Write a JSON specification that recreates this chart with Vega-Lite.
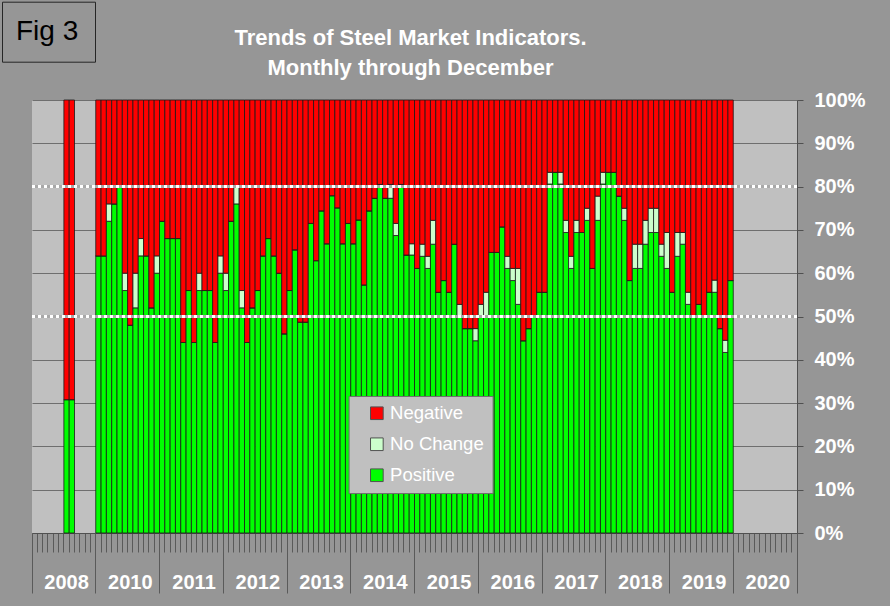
{
  "$schema": "https://vega.github.io/schema/vega-lite/v6.json",
  "width": 765,
  "height": 433,
  "autosize": {"type": "none"},
  "padding": {"left": 32, "top": 100, "right": 93, "bottom": 73},
  "background": "#969696",
  "config": {
    "font": "Liberation Sans",
    "view": {"fill": "#C0C0C0", "stroke": null}
  },
  "title": {
    "text": ["Trends of Steel Market Indicators.", "Monthly through December"],
    "color": "white",
    "font": "Liberation Sans",
    "fontSize": 22,
    "fontWeight": "bold",
    "anchor": "middle",
    "frame": "group",
    "offset": -79,
    "lineHeight": 30,
    "dx": -4
  },
  "resolve": {"axis": {"x": "independent"}},
  "layer": [
    {
      "data": {
        "values": [
          {"m": "2008-07", "pos": 30.8, "nochg": 0, "neg": 69.2},
          {"m": "2008-08", "pos": 30.8, "nochg": 0, "neg": 69.2},
          {"m": "2010-01", "pos": 64, "nochg": 0, "neg": 36},
          {"m": "2010-02", "pos": 64, "nochg": 0, "neg": 36},
          {"m": "2010-03", "pos": 72, "nochg": 4, "neg": 24},
          {"m": "2010-04", "pos": 76, "nochg": 0, "neg": 24},
          {"m": "2010-05", "pos": 80, "nochg": 0, "neg": 20},
          {"m": "2010-06", "pos": 56, "nochg": 4, "neg": 40},
          {"m": "2010-07", "pos": 48, "nochg": 0, "neg": 52},
          {"m": "2010-08", "pos": 52, "nochg": 8, "neg": 40},
          {"m": "2010-09", "pos": 64, "nochg": 4, "neg": 32},
          {"m": "2010-10", "pos": 64, "nochg": 0, "neg": 36},
          {"m": "2010-11", "pos": 52, "nochg": 0, "neg": 48},
          {"m": "2010-12", "pos": 60, "nochg": 4, "neg": 36},
          {"m": "2011-01", "pos": 72, "nochg": 0, "neg": 28},
          {"m": "2011-02", "pos": 68, "nochg": 0, "neg": 32},
          {"m": "2011-03", "pos": 68, "nochg": 0, "neg": 32},
          {"m": "2011-04", "pos": 68, "nochg": 0, "neg": 32},
          {"m": "2011-05", "pos": 44, "nochg": 0, "neg": 56},
          {"m": "2011-06", "pos": 56, "nochg": 0, "neg": 44},
          {"m": "2011-07", "pos": 44, "nochg": 0, "neg": 56},
          {"m": "2011-08", "pos": 56, "nochg": 4, "neg": 40},
          {"m": "2011-09", "pos": 56, "nochg": 0, "neg": 44},
          {"m": "2011-10", "pos": 56, "nochg": 0, "neg": 44},
          {"m": "2011-11", "pos": 44, "nochg": 0, "neg": 56},
          {"m": "2011-12", "pos": 60, "nochg": 4, "neg": 36},
          {"m": "2012-01", "pos": 56, "nochg": 4, "neg": 40},
          {"m": "2012-02", "pos": 72, "nochg": 0, "neg": 28},
          {"m": "2012-03", "pos": 76, "nochg": 4, "neg": 20},
          {"m": "2012-04", "pos": 52, "nochg": 4, "neg": 44},
          {"m": "2012-05", "pos": 44, "nochg": 0, "neg": 56},
          {"m": "2012-06", "pos": 52, "nochg": 0, "neg": 48},
          {"m": "2012-07", "pos": 56, "nochg": 0, "neg": 44},
          {"m": "2012-08", "pos": 64, "nochg": 0, "neg": 36},
          {"m": "2012-09", "pos": 68, "nochg": 0, "neg": 32},
          {"m": "2012-10", "pos": 64, "nochg": 0, "neg": 36},
          {"m": "2012-11", "pos": 60, "nochg": 0, "neg": 40},
          {"m": "2012-12", "pos": 46, "nochg": 0, "neg": 54},
          {"m": "2013-01", "pos": 56, "nochg": 0, "neg": 44},
          {"m": "2013-02", "pos": 65.4, "nochg": 0, "neg": 34.6},
          {"m": "2013-03", "pos": 48.7, "nochg": 0, "neg": 51.3},
          {"m": "2013-04", "pos": 48.7, "nochg": 0, "neg": 51.3},
          {"m": "2013-05", "pos": 71.5, "nochg": 0, "neg": 28.5},
          {"m": "2013-06", "pos": 62.9, "nochg": 0, "neg": 37.1},
          {"m": "2013-07", "pos": 74.4, "nochg": 0, "neg": 25.6},
          {"m": "2013-08", "pos": 66.8, "nochg": 0, "neg": 33.2},
          {"m": "2013-09", "pos": 77.9, "nochg": 0, "neg": 22.1},
          {"m": "2013-10", "pos": 75.1, "nochg": 0, "neg": 24.9},
          {"m": "2013-11", "pos": 66.8, "nochg": 0, "neg": 33.2},
          {"m": "2013-12", "pos": 71.5, "nochg": 0, "neg": 28.5},
          {"m": "2014-01", "pos": 66.8, "nochg": 0, "neg": 33.2},
          {"m": "2014-02", "pos": 72.3, "nochg": 0, "neg": 27.7},
          {"m": "2014-03", "pos": 57.3, "nochg": 0, "neg": 42.7},
          {"m": "2014-04", "pos": 74.4, "nochg": 0, "neg": 25.6},
          {"m": "2014-05", "pos": 77.3, "nochg": 0, "neg": 22.7},
          {"m": "2014-06", "pos": 80.5, "nochg": 0, "neg": 19.5},
          {"m": "2014-07", "pos": 77.3, "nochg": 0, "neg": 22.7},
          {"m": "2014-08", "pos": 77.3, "nochg": 3.2, "neg": 19.5},
          {"m": "2014-09", "pos": 68.7, "nochg": 2.8, "neg": 28.5},
          {"m": "2014-10", "pos": 80.5, "nochg": 0, "neg": 19.5},
          {"m": "2014-11", "pos": 64.2, "nochg": 0, "neg": 35.8},
          {"m": "2014-12", "pos": 64.2, "nochg": 2.6, "neg": 33.2},
          {"m": "2015-01", "pos": 61.1, "nochg": 0, "neg": 38.9},
          {"m": "2015-02", "pos": 63.9, "nochg": 2.8, "neg": 33.3},
          {"m": "2015-03", "pos": 61.1, "nochg": 2.8, "neg": 36.1},
          {"m": "2015-04", "pos": 66.7, "nochg": 5.5, "neg": 27.8},
          {"m": "2015-05", "pos": 55.6, "nochg": 0, "neg": 44.4},
          {"m": "2015-06", "pos": 58.3, "nochg": 0, "neg": 41.7},
          {"m": "2015-07", "pos": 55.6, "nochg": 0, "neg": 44.4},
          {"m": "2015-08", "pos": 66.7, "nochg": 0, "neg": 33.3},
          {"m": "2015-09", "pos": 50, "nochg": 2.8, "neg": 47.2},
          {"m": "2015-10", "pos": 47.2, "nochg": 0, "neg": 52.8},
          {"m": "2015-11", "pos": 47.2, "nochg": 0, "neg": 52.8},
          {"m": "2015-12", "pos": 44.4, "nochg": 2.8, "neg": 52.8},
          {"m": "2016-01", "pos": 50, "nochg": 2.8, "neg": 47.2},
          {"m": "2016-02", "pos": 50, "nochg": 5.6, "neg": 44.4},
          {"m": "2016-03", "pos": 64.8, "nochg": 0, "neg": 35.2},
          {"m": "2016-04", "pos": 64.8, "nochg": 0, "neg": 35.2},
          {"m": "2016-05", "pos": 70.7, "nochg": 0, "neg": 29.3},
          {"m": "2016-06", "pos": 61.1, "nochg": 2.8, "neg": 36.1},
          {"m": "2016-07", "pos": 58.3, "nochg": 2.8, "neg": 38.9},
          {"m": "2016-08", "pos": 52.8, "nochg": 8.3, "neg": 38.9},
          {"m": "2016-09", "pos": 44.4, "nochg": 0, "neg": 55.6},
          {"m": "2016-10", "pos": 47.2, "nochg": 0, "neg": 52.8},
          {"m": "2016-11", "pos": 50, "nochg": 0, "neg": 50},
          {"m": "2016-12", "pos": 55.6, "nochg": 0, "neg": 44.4},
          {"m": "2017-01", "pos": 55.6, "nochg": 0, "neg": 44.4},
          {"m": "2017-02", "pos": 80.6, "nochg": 2.7, "neg": 16.7},
          {"m": "2017-03", "pos": 83.3, "nochg": 0, "neg": 16.7},
          {"m": "2017-04", "pos": 80.6, "nochg": 2.7, "neg": 16.7},
          {"m": "2017-05", "pos": 69.4, "nochg": 2.8, "neg": 27.8},
          {"m": "2017-06", "pos": 61.1, "nochg": 2.8, "neg": 36.1},
          {"m": "2017-07", "pos": 69.4, "nochg": 2.8, "neg": 27.8},
          {"m": "2017-08", "pos": 69.4, "nochg": 0, "neg": 30.6},
          {"m": "2017-09", "pos": 72.2, "nochg": 2.8, "neg": 25},
          {"m": "2017-10", "pos": 61.1, "nochg": 0, "neg": 38.9},
          {"m": "2017-11", "pos": 72.2, "nochg": 5.6, "neg": 22.2},
          {"m": "2017-12", "pos": 80.6, "nochg": 2.7, "neg": 16.7},
          {"m": "2018-01", "pos": 83.3, "nochg": 0, "neg": 16.7},
          {"m": "2018-02", "pos": 83.3, "nochg": 0, "neg": 16.7},
          {"m": "2018-03", "pos": 77.8, "nochg": 0, "neg": 22.2},
          {"m": "2018-04", "pos": 72.2, "nochg": 2.8, "neg": 25},
          {"m": "2018-05", "pos": 58.3, "nochg": 0, "neg": 41.7},
          {"m": "2018-06", "pos": 61.1, "nochg": 5.6, "neg": 33.3},
          {"m": "2018-07", "pos": 61.1, "nochg": 5.6, "neg": 33.3},
          {"m": "2018-08", "pos": 66.7, "nochg": 5.5, "neg": 27.8},
          {"m": "2018-09", "pos": 69.4, "nochg": 5.6, "neg": 25},
          {"m": "2018-10", "pos": 69.4, "nochg": 5.6, "neg": 25},
          {"m": "2018-11", "pos": 63.9, "nochg": 2.8, "neg": 33.3},
          {"m": "2018-12", "pos": 61.1, "nochg": 8.3, "neg": 30.6},
          {"m": "2019-01", "pos": 55.6, "nochg": 0, "neg": 44.4},
          {"m": "2019-02", "pos": 63.9, "nochg": 5.5, "neg": 30.6},
          {"m": "2019-03", "pos": 66.7, "nochg": 2.7, "neg": 30.6},
          {"m": "2019-04", "pos": 52.8, "nochg": 2.8, "neg": 44.4},
          {"m": "2019-05", "pos": 50, "nochg": 0, "neg": 50},
          {"m": "2019-06", "pos": 52.8, "nochg": 0, "neg": 47.2},
          {"m": "2019-07", "pos": 50, "nochg": 0, "neg": 50},
          {"m": "2019-08", "pos": 55.6, "nochg": 0, "neg": 44.4},
          {"m": "2019-09", "pos": 55.6, "nochg": 2.8, "neg": 41.6},
          {"m": "2019-10", "pos": 47.2, "nochg": 0, "neg": 52.8},
          {"m": "2019-11", "pos": 41.7, "nochg": 2.8, "neg": 55.5},
          {"m": "2019-12", "pos": 58.3, "nochg": 0, "neg": 41.7}
        ]
      },
      "transform": [{"fold": ["pos", "nochg", "neg"], "as": ["k", "v"]}],
      "mark": {"type": "bar", "stroke": "#1a1a1a", "strokeWidth": 0.8},
      "encoding": {
        "x": {
          "field": "m",
          "type": "ordinal",
          "title": null,
          "scale": {
            "type": "band",
            "paddingInner": 0,
            "paddingOuter": 0,
            "domain": ["2008-01","2008-02","2008-03","2008-04","2008-05","2008-06","2008-07","2008-08","2008-09","2008-10","2008-11","2008-12","2010-01","2010-02","2010-03","2010-04","2010-05","2010-06","2010-07","2010-08","2010-09","2010-10","2010-11","2010-12","2011-01","2011-02","2011-03","2011-04","2011-05","2011-06","2011-07","2011-08","2011-09","2011-10","2011-11","2011-12","2012-01","2012-02","2012-03","2012-04","2012-05","2012-06","2012-07","2012-08","2012-09","2012-10","2012-11","2012-12","2013-01","2013-02","2013-03","2013-04","2013-05","2013-06","2013-07","2013-08","2013-09","2013-10","2013-11","2013-12","2014-01","2014-02","2014-03","2014-04","2014-05","2014-06","2014-07","2014-08","2014-09","2014-10","2014-11","2014-12","2015-01","2015-02","2015-03","2015-04","2015-05","2015-06","2015-07","2015-08","2015-09","2015-10","2015-11","2015-12","2016-01","2016-02","2016-03","2016-04","2016-05","2016-06","2016-07","2016-08","2016-09","2016-10","2016-11","2016-12","2017-01","2017-02","2017-03","2017-04","2017-05","2017-06","2017-07","2017-08","2017-09","2017-10","2017-11","2017-12","2018-01","2018-02","2018-03","2018-04","2018-05","2018-06","2018-07","2018-08","2018-09","2018-10","2018-11","2018-12","2019-01","2019-02","2019-03","2019-04","2019-05","2019-06","2019-07","2019-08","2019-09","2019-10","2019-11","2019-12","2020-01","2020-02","2020-03","2020-04","2020-05","2020-06","2020-07","2020-08","2020-09","2020-10","2020-11","2020-12"]
          },
          "axis": {
            "orient": "bottom",
            "bandPosition": 0,
            "domain": true,
            "domainColor": "#505050",
            "ticks": true,
            "tickSize": 19,
            "tickColor": "#5a5a5a",
            "tickWidth": 1,
            "grid": false,
            "labelExpr": "slice(datum.value, 5) == '01' ? slice(datum.value, 0, 4) : ''",
            "labelOffset": 31.9,
            "labelPadding": 20,
            "labelAngle": 0,
            "labelOverlap": false,
            "labelBound": false,
            "labelFont": "Liberation Sans",
            "labelFontSize": 20,
            "labelFontWeight": "bold",
            "labelColor": "white"
          }
        },
        "y": {
          "field": "v",
          "type": "quantitative",
          "stack": "normalize",
          "title": null,
          "axis": {
            "orient": "right",
            "values": [0, 0.1, 0.2, 0.3, 0.4, 0.5, 0.6, 0.7, 0.8, 0.9, 1],
            "format": ".0%",
            "grid": true,
            "gridColor": "#6e6e6e",
            "gridWidth": 1,
            "domain": true,
            "domainColor": "#505050",
            "tickSize": 6,
            "tickColor": "#505050",
            "labelPadding": 11,
            "labelFlush": false,
            "labelFont": "Liberation Sans",
            "labelFontSize": 20,
            "labelFontWeight": "bold",
            "labelColor": "white"
          }
        },
        "color": {
          "field": "k",
          "type": "nominal",
          "scale": {"domain": ["neg", "nochg", "pos"], "range": ["#FF0000", "#CCFFCC", "#00FF00"]},
          "legend": {
            "orient": "none",
            "legendX": 316.6,
            "legendY": 296,
            "title": null,
            "direction": "vertical",
            "fillColor": "#C0C0C0",
            "strokeColor": "#707070",
            "padding": 8,
            "symbolType": "square",
            "symbolSize": 160,
            "symbolStrokeColor": "#505050",
            "symbolStrokeWidth": 1,
            "symbolOffset": 11,
            "labelOffset": 4,
            "rowPadding": 12,
            "labelFont": "Liberation Sans",
            "labelFontSize": 18.5,
            "labelColor": "white",
            "labelExpr": "datum.label == 'neg' ? 'Negative' : datum.label == 'nochg' ? 'No Change' : 'Positive'"
          }
        },
        "order": {"field": "k", "sort": "descending"},
        "opacity": {
          "datum": "Fig 3",
          "type": "nominal",
          "scale": {"range": [1]},
          "legend": {
            "orient": "none",
            "legendX": -30,
            "legendY": -98.3,
            "title": null,
            "fillColor": "#969696",
            "strokeColor": "#262626",
            "padding": 16,
            "symbolSize": 1,
            "symbolOpacity": 0,
            "symbolFillColor": "transparent",
            "symbolStrokeColor": "transparent",
            "symbolStrokeWidth": 0,
            "symbolOffset": 0,
            "labelOffset": -30,
            "labelFont": "Liberation Sans",
            "labelFontSize": 28,
            "labelColor": "black"
          }
        }
      }
    },
    {
      "data": {"values": [{"y": 0.5}, {"y": 0.8}]},
      "mark": {"type": "rule", "color": "#a8a8a8", "strokeWidth": 3},
      "encoding": {"y": {"field": "y", "type": "quantitative", "title": null}}
    },
    {
      "data": {"values": [{"y": 0.5}, {"y": 0.8}]},
      "mark": {"type": "rule", "color": "white", "strokeWidth": 3, "strokeDash": [3, 3], "strokeCap": "butt"},
      "encoding": {"y": {"field": "y", "type": "quantitative", "title": null}}
    },
    {
      "data": {"values": [{"m": "2008-12"}, {"m": "2010-12"}, {"m": "2011-12"}, {"m": "2012-12"}, {"m": "2013-12"}, {"m": "2014-12"}, {"m": "2015-12"}, {"m": "2016-12"}, {"m": "2017-12"}, {"m": "2018-12"}, {"m": "2019-12"}, {"m": "2020-12"}]},
      "mark": {"type": "rule", "opacity": 0},
      "encoding": {
        "x": {
          "field": "m",
          "type": "ordinal",
          "title": null,
          "scale": {
            "type": "band",
            "paddingInner": 0,
            "paddingOuter": 0,
            "domain": ["2008-01","2008-02","2008-03","2008-04","2008-05","2008-06","2008-07","2008-08","2008-09","2008-10","2008-11","2008-12","2010-01","2010-02","2010-03","2010-04","2010-05","2010-06","2010-07","2010-08","2010-09","2010-10","2010-11","2010-12","2011-01","2011-02","2011-03","2011-04","2011-05","2011-06","2011-07","2011-08","2011-09","2011-10","2011-11","2011-12","2012-01","2012-02","2012-03","2012-04","2012-05","2012-06","2012-07","2012-08","2012-09","2012-10","2012-11","2012-12","2013-01","2013-02","2013-03","2013-04","2013-05","2013-06","2013-07","2013-08","2013-09","2013-10","2013-11","2013-12","2014-01","2014-02","2014-03","2014-04","2014-05","2014-06","2014-07","2014-08","2014-09","2014-10","2014-11","2014-12","2015-01","2015-02","2015-03","2015-04","2015-05","2015-06","2015-07","2015-08","2015-09","2015-10","2015-11","2015-12","2016-01","2016-02","2016-03","2016-04","2016-05","2016-06","2016-07","2016-08","2016-09","2016-10","2016-11","2016-12","2017-01","2017-02","2017-03","2017-04","2017-05","2017-06","2017-07","2017-08","2017-09","2017-10","2017-11","2017-12","2018-01","2018-02","2018-03","2018-04","2018-05","2018-06","2018-07","2018-08","2018-09","2018-10","2018-11","2018-12","2019-01","2019-02","2019-03","2019-04","2019-05","2019-06","2019-07","2019-08","2019-09","2019-10","2019-11","2019-12","2020-01","2020-02","2020-03","2020-04","2020-05","2020-06","2020-07","2020-08","2020-09","2020-10","2020-11","2020-12"]
          },
          "axis": {
            "orient": "bottom",
            "bandPosition": 1,
            "values": ["2008-12", "2010-12", "2011-12", "2012-12", "2013-12", "2014-12", "2015-12", "2016-12", "2017-12", "2018-12", "2019-12", "2020-12"],
            "domain": false,
            "labels": false,
            "grid": false,
            "ticks": true,
            "tickSize": 60,
            "tickColor": "#5a5a5a",
            "tickWidth": 1
          }
        }
      }
    },
    {
      "data": {"values": [{"m": "2008-01"}]},
      "mark": {"type": "rule", "opacity": 0},
      "encoding": {
        "x": {
          "field": "m",
          "type": "ordinal",
          "title": null,
          "scale": {
            "type": "band",
            "paddingInner": 0,
            "paddingOuter": 0,
            "domain": ["2008-01","2008-02","2008-03","2008-04","2008-05","2008-06","2008-07","2008-08","2008-09","2008-10","2008-11","2008-12","2010-01","2010-02","2010-03","2010-04","2010-05","2010-06","2010-07","2010-08","2010-09","2010-10","2010-11","2010-12","2011-01","2011-02","2011-03","2011-04","2011-05","2011-06","2011-07","2011-08","2011-09","2011-10","2011-11","2011-12","2012-01","2012-02","2012-03","2012-04","2012-05","2012-06","2012-07","2012-08","2012-09","2012-10","2012-11","2012-12","2013-01","2013-02","2013-03","2013-04","2013-05","2013-06","2013-07","2013-08","2013-09","2013-10","2013-11","2013-12","2014-01","2014-02","2014-03","2014-04","2014-05","2014-06","2014-07","2014-08","2014-09","2014-10","2014-11","2014-12","2015-01","2015-02","2015-03","2015-04","2015-05","2015-06","2015-07","2015-08","2015-09","2015-10","2015-11","2015-12","2016-01","2016-02","2016-03","2016-04","2016-05","2016-06","2016-07","2016-08","2016-09","2016-10","2016-11","2016-12","2017-01","2017-02","2017-03","2017-04","2017-05","2017-06","2017-07","2017-08","2017-09","2017-10","2017-11","2017-12","2018-01","2018-02","2018-03","2018-04","2018-05","2018-06","2018-07","2018-08","2018-09","2018-10","2018-11","2018-12","2019-01","2019-02","2019-03","2019-04","2019-05","2019-06","2019-07","2019-08","2019-09","2019-10","2019-11","2019-12","2020-01","2020-02","2020-03","2020-04","2020-05","2020-06","2020-07","2020-08","2020-09","2020-10","2020-11","2020-12"]
          },
          "axis": {
            "orient": "bottom",
            "bandPosition": 0,
            "values": ["2008-01"],
            "domain": false,
            "labels": false,
            "grid": false,
            "ticks": true,
            "tickSize": 60,
            "tickColor": "#5a5a5a",
            "tickWidth": 1
          }
        }
      }
    }
  ]
}
